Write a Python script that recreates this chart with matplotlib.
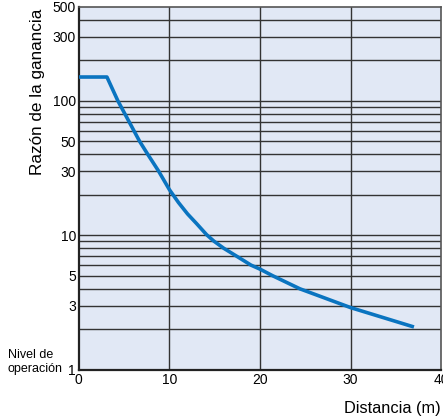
import matplotlib
matplotlib.use('Agg')
import matplotlib.pyplot as plt
import numpy as np

# curve (distance in m, gain ratio)
distance = [0, 3.1, 4.3, 6.7, 7.6, 8.8, 10, 11, 12, 13, 14.1, 14.9, 16.0, 17.4, 19.0, 20, 21.4, 24.4, 30, 36.8]
gain = [150, 150, 100, 50, 40, 30, 21.8, 17.5, 14.4, 12.2, 10.1, 9.05, 8, 7, 6, 5.6, 5, 4, 2.9, 2.1]

y_ticks = [1, 3, 5, 10, 30, 50, 100, 300, 500]
y_grid = [2, 3, 4, 5, 6, 7, 8, 9, 10, 20, 30, 40, 50, 60, 70, 80, 90, 100, 200, 300, 400]
x_ticks = [0, 10, 20, 30, 40]

plt.rcParams['font.family'] = ['Liberation Sans', 'DejaVu Sans']

fig = plt.figure(figsize=(4.43, 4.16), dpi=100)
ax = fig.add_axes([0.178, 0.111, 0.818, 0.873])
ax.set_facecolor('#e1e8f5')

ax.set_yscale('log')
ax.set_xlim(0, 40)
ax.set_ylim(1, 500)

# grid lines
for g in y_grid:
    ax.axhline(g, color='#333333', lw=1.0, zorder=1)
for g in x_ticks[1:-1]:
    ax.axvline(g, color='#333333', lw=1.0, zorder=1)

ax.plot(distance, gain, color='#0a74c0', lw=2.6, solid_joinstyle='round', zorder=3)

ax.set_yticks(y_ticks)
ax.set_yticklabels([str(t) for t in y_ticks])
ax.yaxis.set_minor_locator(matplotlib.ticker.NullLocator())
ax.set_xticks(x_ticks)
ax.tick_params(length=0, labelsize=10, pad=2)

for s in ['left', 'bottom']:
    ax.spines[s].set_linewidth(1.6)
    ax.spines[s].set_color('#222222')
for s in ['top', 'right']:
    ax.spines[s].set_linewidth(1.2)
    ax.spines[s].set_color('#555555')

fig.text(38 / 443, 1 - 9 / 416, 'Razón de la ganancia', rotation=90,
         ha='center', va='top', fontsize=12.3)
fig.text(441 / 443, 1 - 408 / 416, 'Distancia (m)', ha='right', va='center', fontsize=11.8)
fig.text(8 / 443, 1 - 362 / 416, 'Nivel de\noperación', ha='left', va='center',
         fontsize=9, linespacing=1.15)

fig.savefig('out.png', dpi=100)
